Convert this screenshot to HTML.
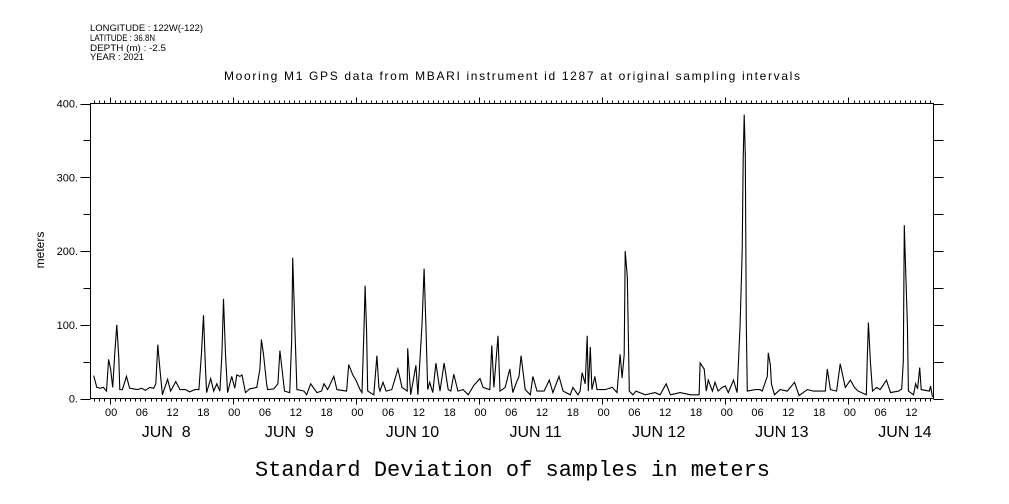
<!DOCTYPE html>
<html><head><meta charset="utf-8"><style>
html,body{margin:0;padding:0;background:#fff;}
svg{display:block;}
text{font-family:"Liberation Sans",sans-serif;fill:#000;}
</style></head>
<body>
<svg id="chart" width="1009" height="504" viewBox="0 0 1009 504" xmlns="http://www.w3.org/2000/svg">
<g font-size="9">
<text x="90" y="31" textLength="113" lengthAdjust="spacingAndGlyphs">LONGITUDE : 122W(-122)</text>
<text x="90" y="41" textLength="65" lengthAdjust="spacingAndGlyphs">LATITUDE : 36.8N</text>
<text x="90" y="51" textLength="76" lengthAdjust="spacingAndGlyphs">DEPTH (m) : -2.5</text>
<text x="90" y="60" textLength="54" lengthAdjust="spacingAndGlyphs">YEAR : 2021</text>
</g>
<text x="224" y="80" font-size="12" textLength="576">Mooring M1 GPS data from MBARI instrument id 1287 at original sampling intervals</text>
<text x="255" y="476" font-size="22" style="font-family:'Liberation Mono',monospace" textLength="515">Standard Deviation of samples in meters</text>
<text transform="translate(44,250) rotate(-90)" text-anchor="middle" font-size="12">meters</text>
<g id="axes"></g>
<g id="series"></g>
</svg>
<script>
const hours = [-3.1,-2.5,-1.8,-1.2,-0.6,-0.2,0.2,0.6,1.0,1.4,1.8,2.0,2.5,3.3,3.9,4.7,5.5,6.2,7.0,7.8,8.6,9.0,9.4,9.8,10.3,11.3,11.9,12.9,13.7,14.8,15.6,16.6,17.4,17.9,18.3,18.7,18.9,19.7,20.3,20.9,21.5,21.9,22.2,22.6,23.0,23.8,24.4,24.8,25.4,25.8,26.5,27.3,28.7,29.3,29.6,30.0,30.6,30.8,32.0,32.8,33.2,33.6,34.1,35.1,35.5,35.7,36.1,36.5,37.9,38.4,39.2,40.4,41.3,41.8,42.5,43.7,44.3,46.2,46.6,47.4,48.0,48.8,49.2,49.6,49.8,50.1,50.3,51.5,52.1,52.5,52.7,53.3,53.9,55.0,56.2,57.0,58.0,58.1,58.7,59.7,60.1,60.9,61.3,61.7,62.0,62.4,63.0,63.6,64.4,65.2,66.0,66.5,67.1,67.9,68.9,69.9,71.0,72.2,72.8,74.1,74.5,74.9,75.7,76.1,77.1,78.0,78.6,79.2,79.8,80.2,81.0,82.0,82.5,83.3,84.7,85.7,86.4,87.6,88.4,89.8,90.3,91.3,91.7,92.1,92.7,93.1,93.3,93.7,94.0,94.6,95.0,96.6,98.0,98.9,99.5,99.9,100.3,100.5,100.9,101.3,102.0,102.6,104.4,106.3,107.3,108.5,109.3,111.2,113.2,114.9,115.1,115.9,116.3,116.7,117.5,118.0,118.6,119.4,120.0,120.6,121.6,122.3,122.9,123.3,123.5,123.7,123.9,124.1,124.3,125.9,126.8,127.2,128.2,128.4,128.8,129.0,129.6,130.7,132.1,133.5,134.4,136.0,137.2,138.5,139.5,139.9,140.5,141.7,142.4,143.4,144.4,145.2,145.9,147.5,147.7,147.9,148.3,148.7,149.5,150.2,151.4,152.2,153.8,154.4,154.7,154.9,155.1,155.5,155.7,156.7,157.1,157.5,157.9,158.2,159.8,160.0,160.4];
const values = [31,15,14,15,10,53,40,15,60,100,55,12,12,30,14,13,12,14,11,15,14,20,73,40,5,26,10,23,12,12,9,12,12,60,113,40,8,27,10,20,10,60,135,60,8,30,14,32,30,32,8,13,15,40,80,60,20,12,13,20,65,40,10,8,80,191,100,12,10,5,20,8,10,20,12,30,12,10,46,32,25,12,8,100,153,90,10,5,58,15,10,22,10,12,40,15,10,68,5,45,5,100,176,90,12,22,8,48,10,48,12,10,33,10,12,5,18,27,15,12,72,15,85,10,15,40,8,20,30,58,12,5,30,10,10,25,8,30,10,5,15,5,10,35,20,85,10,70,12,30,12,12,15,8,60,28,60,200,165,10,5,10,5,8,5,20,5,8,5,5,48,40,10,25,10,22,10,15,17,8,25,8,100,200,325,385,330,100,10,12,12,10,30,62,45,20,5,12,10,22,4,12,10,10,10,40,12,10,47,15,25,15,10,5,60,103,50,10,15,12,25,8,10,13,50,235,190,100,10,5,20,13,42,12,10,17,2];
const yTicks = [0,100,200,300,400];
const yTickLabels = ["0.","100.","200.","300.","400."];
const hourLabels = ["00","06","12","18"];
const dayLabels = ["JUN  8","JUN  9","JUN 10","JUN 11","JUN 12","JUN 13","JUN 14"];

const L=90.5,R=933.5,T=103.5,B=398.5;
const hMin=-3.72, hMax=160.59;
const xs = h => L + (h-hMin)/(hMax-hMin)*(R-L);
const ys = v => B - v/400*(B-T);
const NS="http://www.w3.org/2000/svg";
const axes=document.getElementById('axes');
function mk(tag,attrs,parent){const e=document.createElementNS(NS,tag);for(const k in attrs)e.setAttribute(k,attrs[k]);parent.appendChild(e);return e;}

const frame=mk('rect',{x:L,y:T,width:R-L,height:B-T,fill:'none',stroke:'#000','stroke-width':1},axes);



let tickD='';
for(let h=Math.ceil(hMin);h<=hMax;h++){
  const x=Math.round(xs(h))+0.5;
  const len=(((h%24)+24)%24===0)?6:3;
  tickD+=`M${x} ${B}V${B+len}M${x} ${T}V${T-len}`;
}
for(let v=0;v<=400;v+=50){
  const y=Math.round(ys(v))+0.5;
  const len=(v%100===0)?10:7;
  tickD+=`M${L} ${y}H${L-len}M${R} ${y}H${R+10}`;
}
const ticks=mk('path',{d:tickD,stroke:'#000','stroke-width':1,fill:'none'},axes);



yTicks.forEach((v,i)=>{
  const t=mk('text',{x:78,y:ys(v)+4,'text-anchor':'end','font-size':11},axes);
  t.textContent=yTickLabels[i];
  
  
});
for(let h=0;h<=hMax;h+=6){
  const t=mk('text',{x:xs(h)+1.5,y:416,'text-anchor':'middle','font-size':11},axes);
  t.textContent=hourLabels[(h/6)%4];
  
  
}
dayLabels.forEach((d,i)=>{
  const t=mk('text',{x:xs(i*24+12)-5,y:437,'text-anchor':'middle','font-size':16,'xml:space':'preserve'},axes);
  t.style.whiteSpace='pre';
  t.textContent=d;
  
  
});

const pts=hours.map((h,i)=>xs(h).toFixed(1)+','+ys(values[i]).toFixed(1)).join(' ');
const line=mk('polyline',{points:pts,fill:'none',stroke:'#000','stroke-width':1.1},document.getElementById('series'));


</script>
</body></html>
